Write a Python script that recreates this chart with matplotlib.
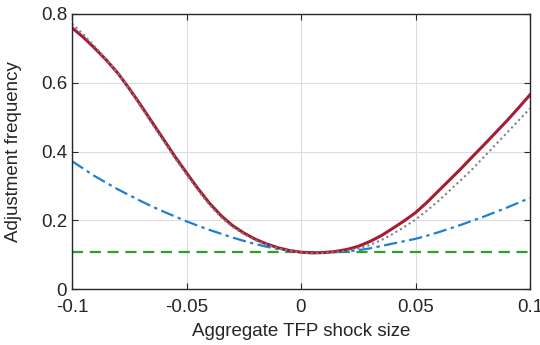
import matplotlib
matplotlib.use('Agg')
import matplotlib.pyplot as plt
import numpy as np

plt.rcParams['font.family'] = ['Liberation Sans', 'DejaVu Sans']

# shock sizes
shock = [-0.1, -0.095, -0.09, -0.085, -0.08, -0.075, -0.07, -0.065, -0.06, -0.055,
         -0.05, -0.045, -0.04, -0.035, -0.03, -0.025, -0.02, -0.015, -0.01, -0.005,
         0.0, 0.005, 0.01, 0.015, 0.02, 0.025, 0.03, 0.035, 0.04, 0.045,
         0.05, 0.055, 0.06, 0.065, 0.07, 0.075, 0.08, 0.085, 0.09, 0.095, 0.1]

# full model (solid red)
freq_full = [0.760, 0.732, 0.700, 0.666, 0.628, 0.583, 0.535, 0.485, 0.435, 0.385,
             0.338, 0.292, 0.250, 0.214, 0.185, 0.163, 0.145, 0.131, 0.120, 0.112,
             0.107, 0.105, 0.106, 0.109, 0.115, 0.124, 0.138, 0.155, 0.176, 0.198,
             0.222, 0.252, 0.285, 0.318, 0.351, 0.386, 0.420, 0.455, 0.490, 0.527, 0.565]
# approximation (gray dotted)
freq_approx = [0.772, 0.740, 0.705, 0.668, 0.628, 0.581, 0.531, 0.480, 0.430, 0.380,
               0.333, 0.287, 0.245, 0.209, 0.181, 0.160, 0.142, 0.129, 0.118, 0.111,
               0.106, 0.104, 0.105, 0.107, 0.111, 0.118, 0.128, 0.142, 0.160, 0.180,
               0.202, 0.228, 0.256, 0.287, 0.318, 0.350, 0.385, 0.420, 0.455, 0.490, 0.525]
# dash-dot blue
freq_blue = [0.372, 0.350, 0.328, 0.309, 0.290, 0.273, 0.256, 0.240, 0.225, 0.211,
             0.197, 0.184, 0.172, 0.161, 0.150, 0.140, 0.131, 0.123, 0.116, 0.111,
             0.107, 0.106, 0.106, 0.107, 0.109, 0.113, 0.118, 0.125, 0.132, 0.139,
             0.146, 0.155, 0.165, 0.176, 0.187, 0.199, 0.211, 0.224, 0.237, 0.251, 0.265]
# steady state (green dashed)
freq_ss = 0.107

fig = plt.figure(figsize=(5.4, 3.45), dpi=100)
ax = fig.add_axes([72/540, 1-289/345, 458/540, 275/345])

ax.axhline(freq_ss, color='#2ca02c', linestyle=(0, (5, 3)), linewidth=1.6)
ax.plot(shock, freq_blue, color='#1f7fd0', linestyle=(0, (6, 2, 1.5, 2)), linewidth=1.6)
ax.plot(shock, freq_full, color='#a51c36', linewidth=2.2)
ax.plot(shock, freq_approx, color='#808080', linestyle=(0, (1, 1.5)), linewidth=1.5)

ax.set_xlim(-0.1, 0.1)
ax.set_ylim(0, 0.8)
ax.set_xticks([-0.1, -0.05, 0, 0.05, 0.1])
ax.set_xticklabels(['-0.1', '-0.05', '0', '0.05', '0.1'])
ax.set_yticks([0, 0.2, 0.4, 0.6, 0.8])
ax.set_yticklabels(['0', '0.2', '0.4', '0.6', '0.8'])
ax.grid(True, color='#dddddd', linewidth=0.8)
ax.tick_params(direction='in', top=True, right=True, labelsize=13.5, colors='#262626',
               length=4, width=0.8)
ax.tick_params(axis='x', pad=7)
ax.tick_params(axis='y', pad=3.5)
for s in ax.spines.values():
    s.set_color('#262626')
    s.set_linewidth(1.0)

ax.set_xlabel('Aggregate TFP shock size', fontsize=13.5, color='#262626')
ax.set_ylabel('Adjustment frequency', fontsize=13.5, color='#262626')
ax.xaxis.set_label_coords(0.5, -0.124)
ax.yaxis.set_label_coords(-0.109, 0.5)

fig.savefig('out.png', dpi=100)
